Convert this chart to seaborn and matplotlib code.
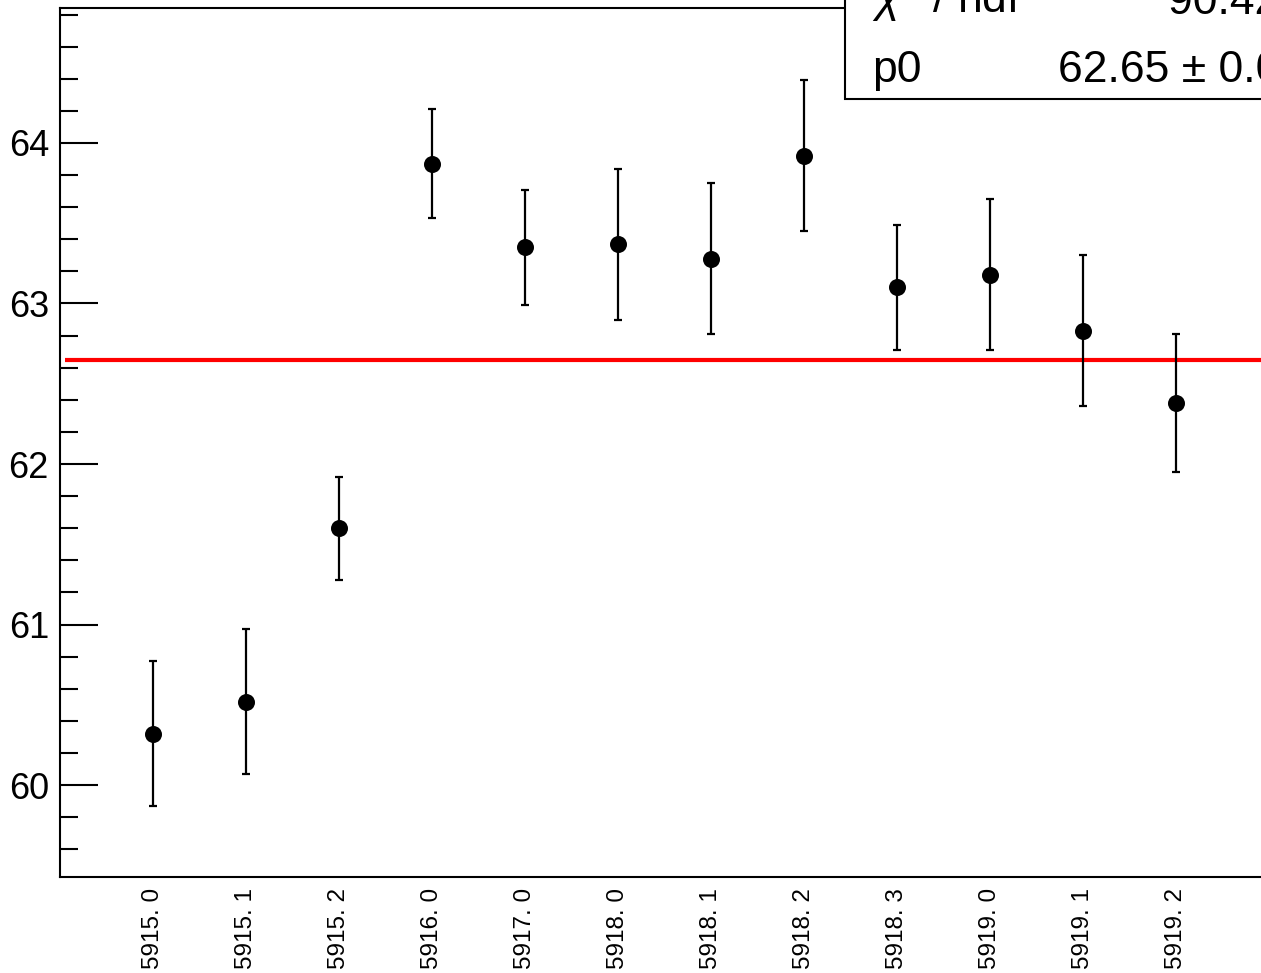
import matplotlib
matplotlib.use("Agg")
import matplotlib.pyplot as plt
from matplotlib.patches import Rectangle
from matplotlib.ticker import MultipleLocator, FixedLocator
import seaborn as sns
import pandas as pd

# ---- data ----
run_labels = ["5915. 0", "5915. 1", "5915. 2", "5916. 0", "5917. 0", "5918. 0",
              "5918. 1", "5918. 2", "5918. 3", "5919. 0", "5919. 1", "5919. 2"]
bin_pos = [1, 2, 3, 4, 5, 6, 7, 8, 9, 10, 11, 12]
values = [60.32, 60.52, 61.60, 63.87, 63.35, 63.37,
          63.28, 63.92, 63.10, 63.18, 62.83, 62.38]
errors = [0.45, 0.45, 0.32, 0.34, 0.36, 0.47,
          0.47, 0.47, 0.39, 0.47, 0.47, 0.43]
fit_p0 = 62.65
stat_names = [r"$\chi^{2}$ / ndf", "p0"]
stat_values = ["90.42 / 11", "62.65 \u00b1 0.09"]

df = pd.DataFrame({"bin": bin_pos, "value": values, "err": errors})

sns.set_style("ticks")
plt.rcParams["font.family"] = ["Liberation Sans", "DejaVu Sans"]
plt.rcParams["text.color"] = "black"
plt.rcParams["xtick.color"] = "black"
plt.rcParams["ytick.color"] = "black"
plt.rcParams["mathtext.fontset"] = "custom"
plt.rcParams["mathtext.rm"] = "Liberation Sans"
plt.rcParams["mathtext.it"] = "Liberation Sans:italic"

W, H = 1261, 973
fig = plt.figure(figsize=(W / 100, H / 100), dpi=100)
ax_left, ax_bottom, ax_top = 60, 877, 8
xmax = 13.0
px_per_bin = 93
ax = fig.add_axes([ax_left / W, (H - ax_bottom) / H,
                   xmax * px_per_bin / W, (ax_bottom - ax_top) / H])

ax.errorbar(df["bin"], df["value"], yerr=df["err"], fmt="none",
            ecolor="black", elinewidth=1.6, capsize=3, capthick=1.6, zorder=2)
sns.scatterplot(data=df, x="bin", y="value", ax=ax, color="black",
                s=150, edgecolor="black", linewidth=0, zorder=3, legend=False)
ax.hlines(fit_p0, 0.055, xmax, colors="#ff0000", linewidth=3, zorder=1)

ax.set_xlim(0, xmax)
ax.set_ylim(59.427, 64.841)
ax.set_xlabel("")
ax.set_ylabel("")

ax.yaxis.set_major_locator(FixedLocator([60, 61, 62, 63, 64]))
ax.yaxis.set_minor_locator(MultipleLocator(0.2))
ax.tick_params(axis="y", which="major", direction="in", length=27, width=1.5,
               labelsize=26, pad=8, colors="black")
ax.tick_params(axis="y", which="minor", direction="in", length=13, width=1.5)

ax.set_xticks(bin_pos)
ax.set_xticklabels(run_labels, rotation=90, va="top", ha="center")
ax.tick_params(axis="x", which="both", length=0, labelsize=17.5, pad=8,
               colors="black")

for s in ax.spines.values():
    s.set_linewidth(1.5)
    s.set_color("black")

# statistics box
box_left, box_bottom = 845, 99
rect = Rectangle((box_left / W, (H - box_bottom) / H), 1.0, 1.0,
                 transform=fig.transFigure, facecolor="white",
                 edgecolor="black", linewidth=1.5, zorder=10, clip_on=False)
fig.add_artist(rect)
baselines = [14, 82]
value_x = [1168, 1058]
for name, val, yb, vx in zip(stat_names, stat_values, baselines, value_x):
    fig.text(872 / W, (H - yb) / H, name, fontsize=32, va="baseline",
             ha="left", zorder=11, color="black")
    fig.text(vx / W, (H - yb) / H, val, fontsize=32,
             va="baseline", ha="left", zorder=11, color="black")

fig.savefig("out.png", dpi=100)
